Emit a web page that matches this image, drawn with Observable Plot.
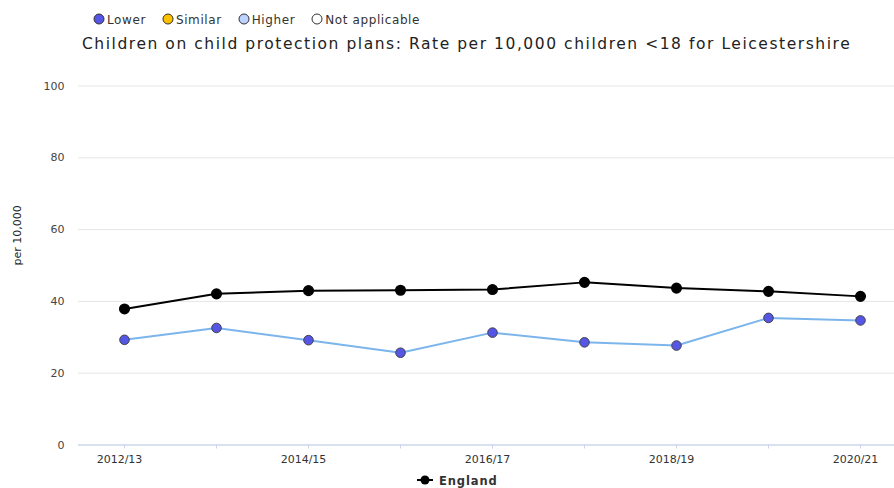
<!DOCTYPE html>
<html>
<head>
<meta charset="utf-8">
<script src="https://cdn.jsdelivr.net/npm/d3@7"></script>
<script src="https://cdn.jsdelivr.net/npm/@observablehq/plot@0.6"></script>
<style>
  html, body { margin: 0; padding: 0; background: #fff; }
  body { width: 894px; height: 488px; overflow: hidden; font-family: "DejaVu Sans", sans-serif; position: relative; }
  #top { position: relative; height: 56px; }
  #legend { position: absolute; left: 93px; top: 13px; font-size: 12px; letter-spacing: 0.6px; color: #333; white-space: nowrap; }
  #legend span.item { display: inline-block; margin-right: 16px; }
  #legend svg { vertical-align: -1px; margin-right: 2px; }
  #title { position: absolute; left: 82px; top: 35px; font-size: 15.5px; letter-spacing: 1.55px; color: #222; white-space: nowrap; }
  #bottom { position: relative; height: 16px; }
  #blegend { position: absolute; left: 417px; top: 2px; font-size: 11.5px; letter-spacing: 0.9px; font-weight: bold; color: #333; white-space: nowrap; }
  #blegend svg { vertical-align: -1px; margin-right: 6px; }
</style>
</head>
<body>
<div id="top"><div id="legend"></div><div id="title"></div></div>
<div id="chart"></div>
<div id="bottom"><div id="blegend"></div></div>
<script>
// ---- data ----
const years = ["2012/13","2013/14","2014/15","2015/16","2016/17","2017/18","2018/19","2019/20","2020/21"];
const leicestershire = [29.3, 32.6, 29.2, 25.7, 31.3, 28.6, 27.7, 35.4, 34.7];
const england = [37.9, 42.1, 43.0, 43.1, 43.3, 45.3, 43.7, 42.8, 41.4];
const yTicks = [0, 20, 40, 60, 80, 100];
const xTickLabels = ["2012/13", "2014/15", "2016/17", "2018/19", "2020/21"];
const legendLabels = ["Lower", "Similar", "Higher", "Not applicable"];
const titleText = "Children on child protection plans: Rate per 10,000 children <18 for Leicestershire";
const yLabel = "per 10,000";
const seriesName = "England";

// ---- styles ----
const legendFill = {"Lower": "#5555e6", "Similar": "#ffc000", "Higher": "#bed2ff", "Not applicable": "#ffffff"};

document.getElementById("title").textContent = titleText;
const leg = document.getElementById("legend");
legendLabels.forEach(l => {
  const s = document.createElement("span");
  s.className = "item";
  s.innerHTML = `<svg width="12" height="12"><circle cx="6" cy="6" r="5" fill="${legendFill[l]}" stroke="#333" stroke-width="1"/></svg>`;
  s.appendChild(document.createTextNode(l));
  leg.appendChild(s);
});
const bl = document.getElementById("blegend");
bl.innerHTML = `<svg width="16" height="12"><line x1="0" x2="16" y1="6" y2="6" stroke="#000" stroke-width="2"/><circle cx="8" cy="6" r="4.5" fill="#000"/></svg>`;
bl.appendChild(document.createTextNode(seriesName));

const local = years.map((y, i) => ({year: y, value: leicestershire[i]}));
const eng = years.map((y, i) => ({year: y, value: england[i]}));

const chart = Plot.plot({
  width: 894,
  height: 416,
  marginTop: 29.5,
  marginBottom: 27.5,
  marginLeft: 78,
  marginRight: 0,
  style: {fontFamily: "DejaVu Sans, sans-serif", fontSize: "11px", color: "#555", background: "#fff"},
  x: {type: "point", domain: years, range: [124, 860], padding: 0},
  y: {domain: [0, 100]},
  marks: [
    Plot.ruleY(yTicks.filter(d => d > 0), {stroke: "#e6e6e6", strokeWidth: 1, strokeOpacity: 1}),
    Plot.ruleY([0], {stroke: "#ccd6eb", strokeWidth: 1.5, strokeOpacity: 1}),
    Plot.axisY({ticks: yTicks, tickSize: 0, tickPadding: 14, label: null, fill: "#444", style: {letterSpacing: "0.6px"}}),
    Plot.text([yLabel], {frameAnchor: "left", dx: -61, rotate: -90, fill: "#222", fontSize: 11}),
    Plot.axisX({ticks: years, tickSize: 4, stroke: "#ccd6eb", tickFormat: () => "", label: null}),
    Plot.axisX({ticks: xTickLabels, tickSize: 0, tickPadding: 10, label: null, fill: "#333", dx: -5, style: {letterSpacing: "0.5px"}}),
    Plot.line(eng, {x: "year", y: "value", stroke: "#000", strokeWidth: 2}),
    Plot.dot(eng, {x: "year", y: "value", r: 4.8, fill: "#000", stroke: "#000"}),
    Plot.line(local, {x: "year", y: "value", stroke: "#7cb5ec", strokeWidth: 2}),
    Plot.dot(local, {x: "year", y: "value", r: 4.8, fill: "#5555e6", stroke: "#444", strokeWidth: 1})
  ]
});
document.getElementById("chart").appendChild(chart);
</script>
</body>
</html>
